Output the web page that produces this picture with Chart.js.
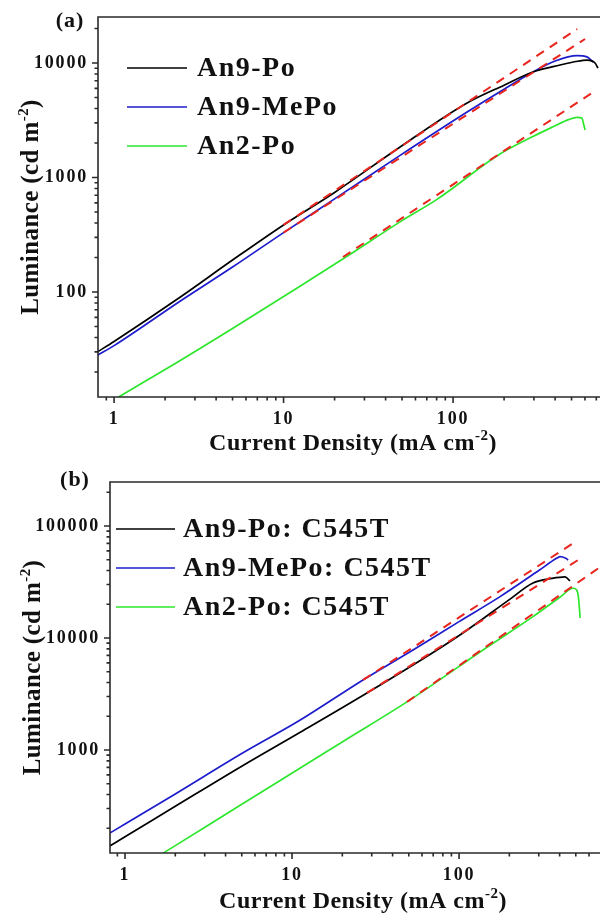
<!DOCTYPE html>
<html>
<head>
<meta charset="utf-8">
<script src="https://cdn.jsdelivr.net/npm/chart.js@4.4.1/dist/chart.umd.min.js"></script>
<style>
  html, body { margin: 0; padding: 0; background: #fff; }
  #wrap { position: relative; width: 600px; height: 913px; overflow: hidden; }
  canvas { position: absolute; left: 0; }
  #chartA { top: 0; }
  #chartB { top: 456px; }
</style>
</head>
<body>
<div id="wrap">
  <canvas id="chartA" width="600" height="456"></canvas>
  <canvas id="chartB" width="600" height="457"></canvas>
</div>
<script>
// ===========================
// DATA  (a) undoped devices
// ===========================
const aBlackX = [0.8, 1, 2.45, 5, 10, 20, 48.7, 121, 200, 296, 428, 530, 617, 688, 716];
const aBlackY = [30, 37, 90, 190, 385, 740, 1845, 4470, 6400, 8340, 9600, 10300, 10600, 10000, 9000];

const aBlueX = [0.8, 1, 2.45, 5, 10, 20, 48.7, 121, 200, 296, 400, 540, 617, 670];
const aBlueY = [28, 34, 83, 165, 330, 650, 1560, 3730, 5900, 8340, 10400, 11600, 11300, 10200];

const aGreenX = [1.05, 2, 5, 12.5, 23.7, 50, 80, 189, 300, 389, 480, 540, 575, 590, 601];
const aGreenY = [12, 21, 48, 112, 205, 420, 640, 1600, 2300, 2770, 3200, 3350, 3300, 2900, 2600];

// linear fits (dashed)
const aFitBlackX = [10, 540];
const aFitBlackY = [385, 19800];
const aFitBlueX = [10, 601];
const aFitBlueY = [330, 16200];
const aFitGreenX = [22.4, 660];
const aFitGreenY = [202, 5470];

const aLabels = ["An9-Po", "An9-MePo", "An2-Po"];

// ===========================
// DATA  (b) C545T doped devices
// ===========================
const bBlackX = [0.81, 1, 2, 5, 11.2, 28.1, 73.8, 112, 200, 277, 360, 431, 462];
const bBlackY = [139, 168, 314, 716, 1440, 3230, 7820, 11800, 22000, 31000, 34000, 35100, 32300];

const bBlueX = [0.81, 1, 2, 5, 11.2, 26.6, 53, 100, 176, 300, 386, 403, 435, 450];
const bBlueY = [181, 218, 405, 930, 1850, 4220, 7820, 14000, 23400, 40000, 51700, 53200, 51500, 49700];

const bGreenX = [1.69, 2, 5, 11.2, 20, 50.9, 139, 277, 400, 483, 505, 518, 531];
const bGreenY = [120, 140, 328, 690, 1180, 2800, 7820, 15500, 23000, 27800, 27000, 23400, 15100];

const bFitBlueX = [26.6, 495];
const bFitBlueY = [4220, 72000];
const bFitBlackX = [28.1, 516];
const bFitBlackY = [3230, 49700];
const bFitGreenX = [48.8, 699];
const bFitGreenY = [2690, 43000];

const bLabels = ["An9-Po: C545T", "An9-MePo: C545T", "An2-Po: C545T"];

// ===========================
// HELPERS
// ===========================
const SERIF = "'Liberation Serif', 'Times New Roman', serif";
const BLACK = "#000000";
const BLUE = "#1c1ccc";
const GREEN = "#2ee62e";
const RED = "#e8261e";
const AXIS = "#2a2a2a";

function xy(xs, ys) {
  return xs.map((x, i) => ({ x: x, y: ys[i] }));
}

function isNice(v) {
  const e = Math.floor(Math.log10(v) + 1e-9);
  const m = v / Math.pow(10, e);
  return Math.abs(m - Math.round(m)) < 1e-6;
}

function isDecade(v) {
  const l = Math.log10(v);
  return Math.abs(l - Math.round(l)) < 1e-6;
}

function curve(label, xs, ys, color) {
  return {
    label: label,
    data: xy(xs, ys),
    borderColor: color,
    borderWidth: 1.7,
    pointRadius: 0,
    cubicInterpolationMode: "monotone",
    order: 2
  };
}

function fit(xs, ys) {
  return {
    label: "fit",
    legend: false,
    data: xy(xs, ys),
    borderColor: RED,
    borderWidth: 2,
    borderDash: [9, 7],
    pointRadius: 0,
    order: 1
  };
}

// text with a superscript part, centred on x
function drawRich(ctx, parts, x, y, big, small, raise) {
  let w = 0;
  parts.forEach(p => {
    ctx.font = p[1] ? small : big;
    w += ctx.measureText(p[0]).width;
  });
  let cx = x - w / 2;
  parts.forEach(p => {
    ctx.font = p[1] ? small : big;
    ctx.fillText(p[0], cx, p[1] ? y - raise : y);
    cx += ctx.measureText(p[0]).width;
  });
}

// ===========================
// PLUGIN: frame, ticks, titles, legend
// ===========================
const decoPlugin = {
  id: "deco",
  beforeDraw(chart) {
    chart.ctx.letterSpacing = "1.8px";
  },
  afterDraw(chart, args, o) {
    const ctx = chart.ctx;
    const a = chart.chartArea;
    const xs = chart.scales.x;
    const ys = chart.scales.y;

    ctx.save();
    ctx.strokeStyle = AXIS;
    ctx.lineWidth = 1.6;

    // ticks (outward)
    ctx.beginPath();
    xs.ticks.forEach(t => {
      const px = xs.getPixelForValue(t.value);
      const len = isDecade(t.value) ? 6 : 3.5;
      ctx.moveTo(px, a.bottom);
      ctx.lineTo(px, a.bottom + len);
    });
    ys.ticks.forEach(t => {
      const py = ys.getPixelForValue(t.value);
      const len = isDecade(t.value) ? 6 : 3.5;
      ctx.moveTo(a.left, py);
      ctx.lineTo(a.left - len, py);
    });
    ctx.stroke();

    // frame: right side falls outside the picture
    ctx.beginPath();
    ctx.moveTo(a.right + 2, a.top);
    ctx.lineTo(a.left, a.top);
    ctx.lineTo(a.left, a.bottom);
    ctx.lineTo(a.right + 2, a.bottom);
    ctx.stroke();

    ctx.fillStyle = "#111";
    ctx.textAlign = "left";
    ctx.textBaseline = "alphabetic";

    // x title
    ctx.letterSpacing = "0.5px";
    drawRich(ctx,
      [["Current Density (mA cm", false], ["-2", true], [")", false]],
      (a.left + a.right) / 2 + o.xTitleDx, o.xTitleY,
      "bold 24px " + SERIF, "bold 15px " + SERIF, 10);

    // y title (rotated)
    ctx.save();
    ctx.letterSpacing = "0.4px";
    ctx.translate(o.yTitleX, (a.top + a.bottom) / 2);
    ctx.rotate(-Math.PI / 2);
    drawRich(ctx,
      [["Luminance (cd m", false], ["-2", true], [")", false]],
      0, 0,
      "bold 25px " + SERIF, "bold 15px " + SERIF, 10);
    ctx.restore();

    // panel letter
    ctx.letterSpacing = "1px";
    ctx.font = "bold 22px " + SERIF;
    ctx.textAlign = "center";
    ctx.textBaseline = "middle";
    ctx.fillText(o.letter, o.letterX, o.letterY);

    // legend
    ctx.textAlign = "left";
    ctx.letterSpacing = "1.5px";
    ctx.font = "bold 28px " + SERIF;
    let row = 0;
    chart.data.datasets.forEach(ds => {
      if (ds.legend === false) return;
      const y = o.legendY[row++];
      ctx.strokeStyle = ds.borderColor;
      ctx.lineWidth = 1.7;
      ctx.beginPath();
      ctx.moveTo(o.legendX0, y);
      ctx.lineTo(o.legendX1, y);
      ctx.stroke();
      ctx.fillStyle = "#111";
      ctx.fillText(ds.label, o.legendTx, y + 1);
    });

    ctx.restore();
  }
};

function logAxis(min, max, labelPad, fitSize, horizontal) {
  return {
    type: "logarithmic",
    min: min,
    max: max,
    grid: { display: false, drawTicks: false },
    border: { display: false },
    ticks: {
      autoSkip: false,
      maxRotation: 0,
      minRotation: 0,
      padding: labelPad,
      color: "#111",
      font: { family: SERIF, size: 18, weight: "bold" },
      callback: v => (isDecade(v) ? String(Math.round(v)) : "")
    },
    afterBuildTicks: s => {
      s.ticks = s.ticks.filter(t => isNice(t.value) && t.value >= min * 0.999 && t.value <= max * 1.001);
    },
    afterFit: s => {
      if (horizontal) {
        s.height = fitSize;
        s.paddingLeft = 0;
        s.paddingRight = 0;
      } else {
        s.width = fitSize;
        s.paddingTop = 0;
        s.paddingBottom = 0;
      }
    }
  };
}

function makeChart(id, datasets, cfg) {
  return new Chart(document.getElementById(id), {
    type: "line",
    data: { datasets: datasets },
    options: {
      responsive: false,
      animation: false,
      devicePixelRatio: 1,
      layout: { padding: { top: cfg.top, right: 0, left: 0, bottom: 0 } },
      scales: {
        x: logAxis(cfg.xMin, cfg.xMax, 12, cfg.xH, true),
        y: logAxis(cfg.yMin, cfg.yMax, 10, cfg.yW, false)
      },
      plugins: {
        legend: { display: false },
        tooltip: { enabled: false },
        deco: cfg.deco
      }
    },
    plugins: [decoPlugin]
  });
}

// ===========================
// CHARTS
// ===========================
makeChart("chartA", [
  curve(aLabels[0], aBlackX, aBlackY, BLACK),
  curve(aLabels[1], aBlueX, aBlueY, BLUE),
  curve(aLabels[2], aGreenX, aGreenY, GREEN),
  fit(aFitBlackX, aFitBlackY),
  fit(aFitBlueX, aFitBlueY),
  fit(aFitGreenX, aFitGreenY)
], {
  top: 17, xH: 59, yW: 98,
  xMin: 0.804, xMax: 736, yMin: 12.1, yMax: 25200,
  deco: {
    letter: "(a)", letterX: 70, letterY: 21,
    xTitleY: 450, xTitleDx: 4, yTitleX: 38,
    legendX0: 127, legendX1: 187, legendTx: 197, legendY: [68, 107, 146]
  }
});

makeChart("chartB", [
  curve(bLabels[0], bBlackX, bBlackY, BLACK),
  curve(bLabels[1], bBlueX, bBlueY, BLUE),
  curve(bLabels[2], bGreenX, bGreenY, GREEN),
  fit(bFitBlueX, bFitBlueY),
  fit(bFitBlackX, bFitBlackY),
  fit(bFitGreenX, bFitGreenY)
], {
  top: 26, xH: 60, yW: 110,
  xMin: 0.813, xMax: 698, yMin: 120.3, yMax: 247000,
  deco: {
    letter: "(b)", letterX: 75, letterY: 24,
    xTitleY: 452, xTitleDx: 8, yTitleX: 40,
    legendX0: 116, legendX1: 175, legendTx: 183, legendY: [73, 112, 151]
  }
});
</script>
</body>
</html>
